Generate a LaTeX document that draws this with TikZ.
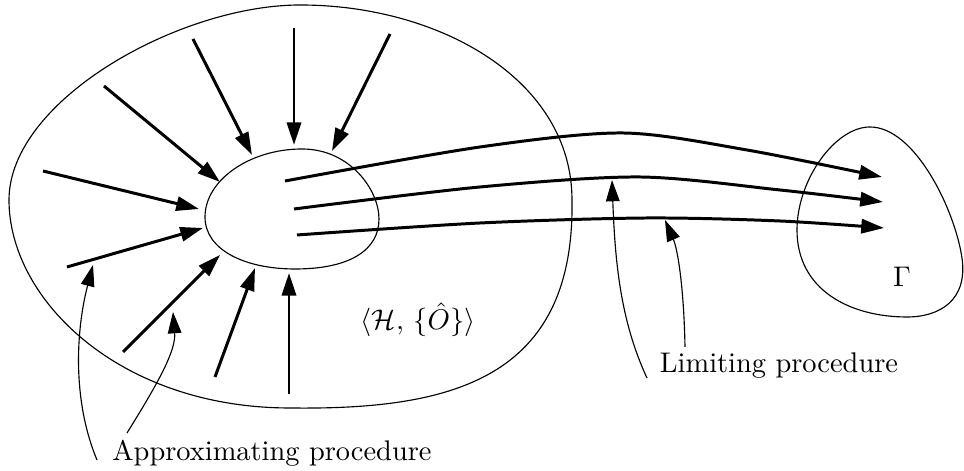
\documentclass[tikz,border=0pt]{standalone}
\usetikzlibrary{arrows.meta}
\tikzset{
  flow/.style={line width=1.05pt, -{Triangle[length=8pt,width=5pt]}},
  pointer/.style={line width=0.4pt, -{Triangle[length=7.5pt,width=4.8pt]}},
  region/.style={line width=0.4pt},
}
\begin{document}
\begin{tikzpicture}[x=0.352pt, y=-0.352pt]
    \useasboundingbox (0,0) rectangle (964,471);
    % outer region
    \draw[region] (9,200) .. controls (9,100) and (180,5) .. (300,5)
        .. controls (440,5) and (572,80) .. (572,200)
        .. controls (575,380) and (450,410) .. (290,408)
        .. controls (120,408) and (9,300) .. cycle;
    % inner region
    \draw[region] (205,217) .. controls (205,180) and (250,149) .. (302,149)
        .. controls (350,149) and (379,190) .. (379,219)
        .. controls (379,250) and (350,269) .. (295,269)
        .. controls (245,269) and (205,250) .. cycle;
    % target region
    \draw[region] (797,230) .. controls (797,180) and (835,127) .. (870,127)
        .. controls (915,127) and (955,210) .. (962,258)
        .. controls (968,300) and (940,317) .. (907,317)
        .. controls (850,317) and (797,290) .. cycle;
    % labels
    \node (hilb) at (418,320) {$\langle\mathcal{H},\,\{\hat{O}\}\rangle$};
    \node (gamma) at (902,277) {$\Gamma$};
    \node (approx) at (272,453) {Approximating procedure};
    \node (limit) at (779,366) {Limiting procedure};
    % approximating arrows
    \draw[flow] (294,28) -- (294,145);
    \draw[flow] (390,34) -- (332,151);
    \draw[flow] (193,39) -- (252,155);
    \draw[flow] (104,86) -- (220,182);
    \draw[flow] (43,171) -- (199,209);
    \draw[flow] (67,267) -- (203,228);
    \draw[flow] (123,352) -- (220,255);
    \draw[flow] (215,377) -- (255,268);
    \draw[flow] (289,394) -- (289,273);
    % limiting arrows
    \draw[flow] plot[smooth] coordinates {(285,181) (480,147) (623,133) (747,150) (882,177)};
    \draw[flow] plot[smooth] coordinates {(294,209) (480,187) (640,177) (780,190) (883,202)};
    \draw[flow] plot[smooth] coordinates {(297,235) (480,223) (647,218) (780,221) (884,228)};
    % pointers
    \coordinate (approx-a) at (97,460);
    \coordinate (approx-b) at (127,433);
    \coordinate (limit-a) at (647,378);
    \coordinate (limit-b) at (685,347);
    \draw[pointer] (approx-a) .. controls (72,400) and (76,330) .. (93,265);
    \draw[pointer] (approx-b) .. controls (160,380) and (176,350) .. (173,312);
    \draw[pointer] (limit-a) .. controls (620,320) and (615,260) .. (612,180);
    \draw[pointer] (limit-b) .. controls (684,290) and (678,250) .. (665,220);
\end{tikzpicture}
\end{document}
